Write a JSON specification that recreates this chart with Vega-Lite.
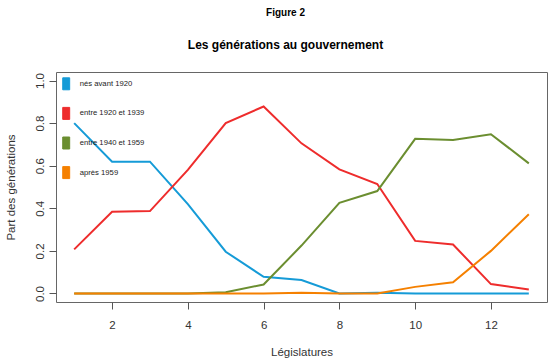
{
  "$schema": "https://vega.github.io/schema/vega-lite/v6.json",
  "width": 491,
  "height": 230,
  "autosize": {"type": "none"},
  "padding": {"left": 56, "top": 72, "right": 3, "bottom": 60},
  "background": "white",
  "config": {"font": "Liberation Sans", "view": {"stroke": "#666", "strokeWidth": 1}},
  "title": {
    "text": "Figure 2",
    "subtitle": "Les générations au gouvernement",
    "font": "Liberation Sans",
    "subtitleFont": "Liberation Sans",
    "fontSize": 10,
    "fontWeight": "bold",
    "color": "black",
    "subtitleFontSize": 12,
    "subtitleFontWeight": "bold",
    "subtitleColor": "black",
    "subtitlePadding": 22,
    "anchor": "middle",
    "offset": 21,
    "dx": -16
  },
  "data": {
    "values": [
      {"leg": 1, "serie": "nés avant 1920", "part": 0.800},
      {"leg": 2, "serie": "nés avant 1920", "part": 0.619},
      {"leg": 3, "serie": "nés avant 1920", "part": 0.619},
      {"leg": 4, "serie": "nés avant 1920", "part": 0.420},
      {"leg": 5, "serie": "nés avant 1920", "part": 0.196},
      {"leg": 6, "serie": "nés avant 1920", "part": 0.078},
      {"leg": 7, "serie": "nés avant 1920", "part": 0.063},
      {"leg": 8, "serie": "nés avant 1920", "part": 0.000},
      {"leg": 9, "serie": "nés avant 1920", "part": 0.004},
      {"leg": 10, "serie": "nés avant 1920", "part": 0.000},
      {"leg": 11, "serie": "nés avant 1920", "part": 0.000},
      {"leg": 12, "serie": "nés avant 1920", "part": 0.000},
      {"leg": 13, "serie": "nés avant 1920", "part": 0.000},
      {"leg": 1, "serie": "entre 1920 et 1939", "part": 0.207},
      {"leg": 2, "serie": "entre 1920 et 1939", "part": 0.384},
      {"leg": 3, "serie": "entre 1920 et 1939", "part": 0.387},
      {"leg": 4, "serie": "entre 1920 et 1939", "part": 0.580},
      {"leg": 5, "serie": "entre 1920 et 1939", "part": 0.800},
      {"leg": 6, "serie": "entre 1920 et 1939", "part": 0.878},
      {"leg": 7, "serie": "entre 1920 et 1939", "part": 0.705},
      {"leg": 8, "serie": "entre 1920 et 1939", "part": 0.583},
      {"leg": 9, "serie": "entre 1920 et 1939", "part": 0.514},
      {"leg": 10, "serie": "entre 1920 et 1939", "part": 0.247},
      {"leg": 11, "serie": "entre 1920 et 1939", "part": 0.230},
      {"leg": 12, "serie": "entre 1920 et 1939", "part": 0.044},
      {"leg": 13, "serie": "entre 1920 et 1939", "part": 0.019},
      {"leg": 1, "serie": "entre 1940 et 1959", "part": 0.000},
      {"leg": 2, "serie": "entre 1940 et 1959", "part": 0.000},
      {"leg": 3, "serie": "entre 1940 et 1959", "part": 0.000},
      {"leg": 4, "serie": "entre 1940 et 1959", "part": 0.000},
      {"leg": 5, "serie": "entre 1940 et 1959", "part": 0.006},
      {"leg": 6, "serie": "entre 1940 et 1959", "part": 0.042},
      {"leg": 7, "serie": "entre 1940 et 1959", "part": 0.225},
      {"leg": 8, "serie": "entre 1940 et 1959", "part": 0.426},
      {"leg": 9, "serie": "entre 1940 et 1959", "part": 0.481},
      {"leg": 10, "serie": "entre 1940 et 1959", "part": 0.726},
      {"leg": 11, "serie": "entre 1940 et 1959", "part": 0.721},
      {"leg": 12, "serie": "entre 1940 et 1959", "part": 0.748},
      {"leg": 13, "serie": "entre 1940 et 1959", "part": 0.611},
      {"leg": 1, "serie": "après 1959", "part": 0.000},
      {"leg": 2, "serie": "après 1959", "part": 0.000},
      {"leg": 3, "serie": "après 1959", "part": 0.000},
      {"leg": 4, "serie": "après 1959", "part": 0.000},
      {"leg": 5, "serie": "après 1959", "part": 0.000},
      {"leg": 6, "serie": "après 1959", "part": 0.000},
      {"leg": 7, "serie": "après 1959", "part": 0.004},
      {"leg": 8, "serie": "après 1959", "part": 0.000},
      {"leg": 9, "serie": "après 1959", "part": 0.000},
      {"leg": 10, "serie": "après 1959", "part": 0.031},
      {"leg": 11, "serie": "après 1959", "part": 0.053},
      {"leg": 12, "serie": "après 1959", "part": 0.200},
      {"leg": 13, "serie": "après 1959", "part": 0.372}
    ]
  },
  "encoding": {
    "x": {
      "field": "leg",
      "type": "quantitative",
      "scale": {"domain": [0.52, 13.48], "nice": false, "zero": false},
      "axis": {
        "values": [2, 4, 6, 8, 10, 12],
        "title": "Législatures",
        "grid": false,
        "domain": false,
        "tickSize": 7,
        "tickColor": "#555",
        "labelFontSize": 11.5,
        "labelColor": "#333",
        "labelPadding": 10,
        "labelFont": "Liberation Sans",
        "titleFont": "Liberation Sans",
        "titleFontSize": 11.5,
        "titleFontWeight": "normal",
        "titleColor": "#333",
        "titleY": 53,
        "titleBaseline": "alphabetic"
      }
    },
    "y": {
      "field": "part",
      "type": "quantitative",
      "scale": {"domain": [-0.04, 1.04], "nice": false, "zero": false},
      "axis": {
        "values": [0, 0.2, 0.4, 0.6, 0.8, 1.0],
        "format": ".1f",
        "title": "Part des générations",
        "grid": false,
        "domain": false,
        "tickSize": 7,
        "tickColor": "#555",
        "labelFontSize": 11.5,
        "labelColor": "#333",
        "labelAngle": 270,
        "labelAlign": "center",
        "labelBaseline": "alphabetic",
        "labelPadding": 6,
        "labelFont": "Liberation Sans",
        "titleFont": "Liberation Sans",
        "titleFontSize": 11.5,
        "titleFontWeight": "normal",
        "titleColor": "#333",
        "titleAngle": 270,
        "titleX": -45,
        "titleY": 115,
        "titleAlign": "center",
        "titleBaseline": "middle"
      }
    },
    "color": {
      "field": "serie",
      "type": "nominal",
      "scale": {
        "domain": ["nés avant 1920", "entre 1920 et 1939", "entre 1940 et 1959", "après 1959"],
        "range": ["#159bd7", "#ee2c2c", "#6b8e30", "#f58000"]
      },
      "legend": {
        "title": null,
        "orient": "none",
        "legendX": 3.7,
        "legendY": 5.3,
        "padding": 0,
        "symbolType": "M-0.58,-1H0.58V1H-0.58Z",
        "symbolSize": 144,
        "symbolStrokeWidth": 1,
        "labelFontSize": 7.7,
        "labelFont": "Liberation Sans",
        "labelColor": "#222",
        "labelOffset": 7,
        "rowPadding": 12.6,
        "encode": {
          "symbols": {
            "update": {
              "fill": {"scale": "color", "field": "value"},
              "stroke": {"value": "#444"},
              "strokeWidth": {"value": 1},
              "opacity": {"value": 1},
              "fillOpacity": {"value": 1}
            }
          }
        }
      }
    }
  },
  "layer": [
    {"transform": [{"filter": "datum.serie === 'nés avant 1920'"}], "mark": {"type": "line", "strokeWidth": 2}},
    {"transform": [{"filter": "datum.serie === 'entre 1920 et 1939'"}], "mark": {"type": "line", "strokeWidth": 2}},
    {"transform": [{"filter": "datum.serie === 'entre 1940 et 1959'"}], "mark": {"type": "line", "strokeWidth": 2}},
    {"transform": [{"filter": "datum.serie === 'après 1959'"}], "mark": {"type": "line", "strokeWidth": 2}}
  ]
}
